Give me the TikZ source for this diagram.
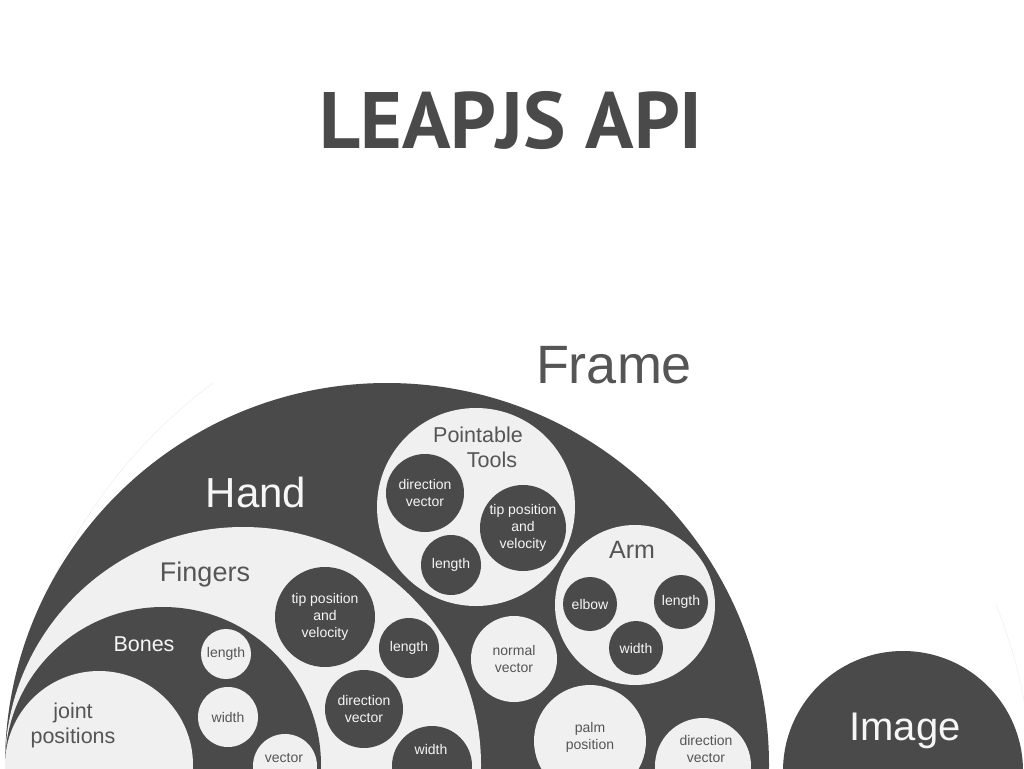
\documentclass[tikz,border=0pt]{standalone}
\usepackage{fontspec}
\setmainfont{Liberation Sans}
\newfontfamily\titlefont{PT Sans}
\definecolor{dk}{HTML}{4A4A4A}
\definecolor{lt}{HTML}{F0F0F0}
\definecolor{txd}{HTML}{555555}
\definecolor{txl}{HTML}{F6F6F6}
\definecolor{faint}{HTML}{F1F1F1}
\begin{document}
\begin{tikzpicture}[x=1pt,y=-1pt,
  base/.style={circle, draw=none, inner sep=0pt, align=center},
  dkc/.style={base, fill=dk, text=txl},
  ltc/.style={base, fill=lt, text=txd},
  rad/.style={minimum size=#1*2pt},
  small/.style={font=\fontsize{14}{17}\selectfont},
  mid/.style={font=\fontsize{21.5}{25}\selectfont},
  lbl/.style={inner sep=0pt, anchor=base}]
\useasboundingbox (0,0) rectangle (1024,768);
\clip (0,0) rectangle (1024,768);
\fill[white] (0,0) rectangle (1024,768);
% title
\node[lbl, font=\titlefont\bfseries\fontsize{80}{84}\selectfont, text=dk] (title) at (511,148) {LEAPJS API};
% faint frame outline
\draw[faint, line width=0.6pt] ([shift={(519,796)}]233.5:514) arc[start angle=233.5, end angle=193, radius=514];
\draw[faint, line width=0.6pt] ([shift={(519,796)}]-22:514) arc[start angle=-22, end angle=-3, radius=514];
% nested big circles
\node[dkc, rad=382] (hand) at (387,765) {};
\node[ltc, rad=238] (fingers) at (243,765) {};
\node[dkc, rad=158] (bones) at (163,765) {};
\node[ltc, rad=94] (joint) at (99,765) {};
% bones items
\node[ltc, rad=25, small] (blen) at (226,654) {length};
\node[ltc, rad=30, small] (bwid) at (228,717) {width};
\node[ltc, rad=32] (bvec) at (285,766) {};
\node[lbl, small, text=txd] (bvect) at (284,762) {vector};
% finger items
\node[dkc, rad=50, small] (ftip) at (325,617) {tip position\\and\\velocity};
\node[dkc, rad=30, small] (flen) at (409,648) {length};
\node[dkc, rad=39, small] (fdir) at (364,709) {direction\\vector};
\node[dkc, rad=40] (fwid) at (432,766) {};
\node[lbl, small, text=txl] (fwidt) at (431,754) {width};
% pointable tools
\node[ltc, rad=99] (pt) at (476,507) {};
\node[lbl, mid, text=txd] (ptl1) at (478,442) {Pointable};
\node[lbl, mid, text=txd] (ptl2) at (492,467) {Tools};
\node[dkc, rad=39, small] (pdir) at (425,493) {direction\\vector};
\node[dkc, rad=43, small] (ptip) at (523,528) {tip position\\and\\velocity};
\node[dkc, rad=30, small] (plen) at (451,565) {length};
% arm
\node[ltc, rad=80] (arm) at (635,605) {};
\node[lbl, font=\fontsize{25}{28}\selectfont, text=txd] (armt) at (632,558) {Arm};
\node[dkc, rad=27, small] (elbow) at (590,604) {elbow};
\node[dkc, rad=27, small] (alen) at (681,602) {length};
\node[dkc, rad=27, small] (awid) at (636,648) {width};
% hand items
\node[ltc, rad=43, small] (normal) at (514,659) {normal\\vector};
\node[ltc, rad=56] (palm) at (590,741) {};
\node[lbl, small, text=txd, align=center] (palmt) at (590,749) {palm\\position};
\node[ltc, rad=48] (hdir) at (703,766) {};
\node[lbl, small, text=txd, align=center] (hdirt) at (706,762) {direction\\vector};
% image
\node[dkc, rad=120] (image) at (903,771) {};
\node[lbl, font=\fontsize{40}{44}\selectfont, text=txl] (imaget) at (905,740) {Image};
% big labels
\node[lbl, font=\fontsize{54}{58}\selectfont, text=txd] (framet) at (614,383) {Frame};
\node[lbl, font=\fontsize{42}{46}\selectfont, text=txl] (handt) at (256,507) {Hand};
\node[lbl, font=\fontsize{27}{30}\selectfont, text=txd] (fingt) at (205,581) {Fingers};
\node[lbl, mid, text=txl] (bonest) at (144,651) {Bones};
\node[lbl, mid, text=txd, align=center] (jointt) at (73,743) {joint\\positions};
\end{tikzpicture}
\end{document}
